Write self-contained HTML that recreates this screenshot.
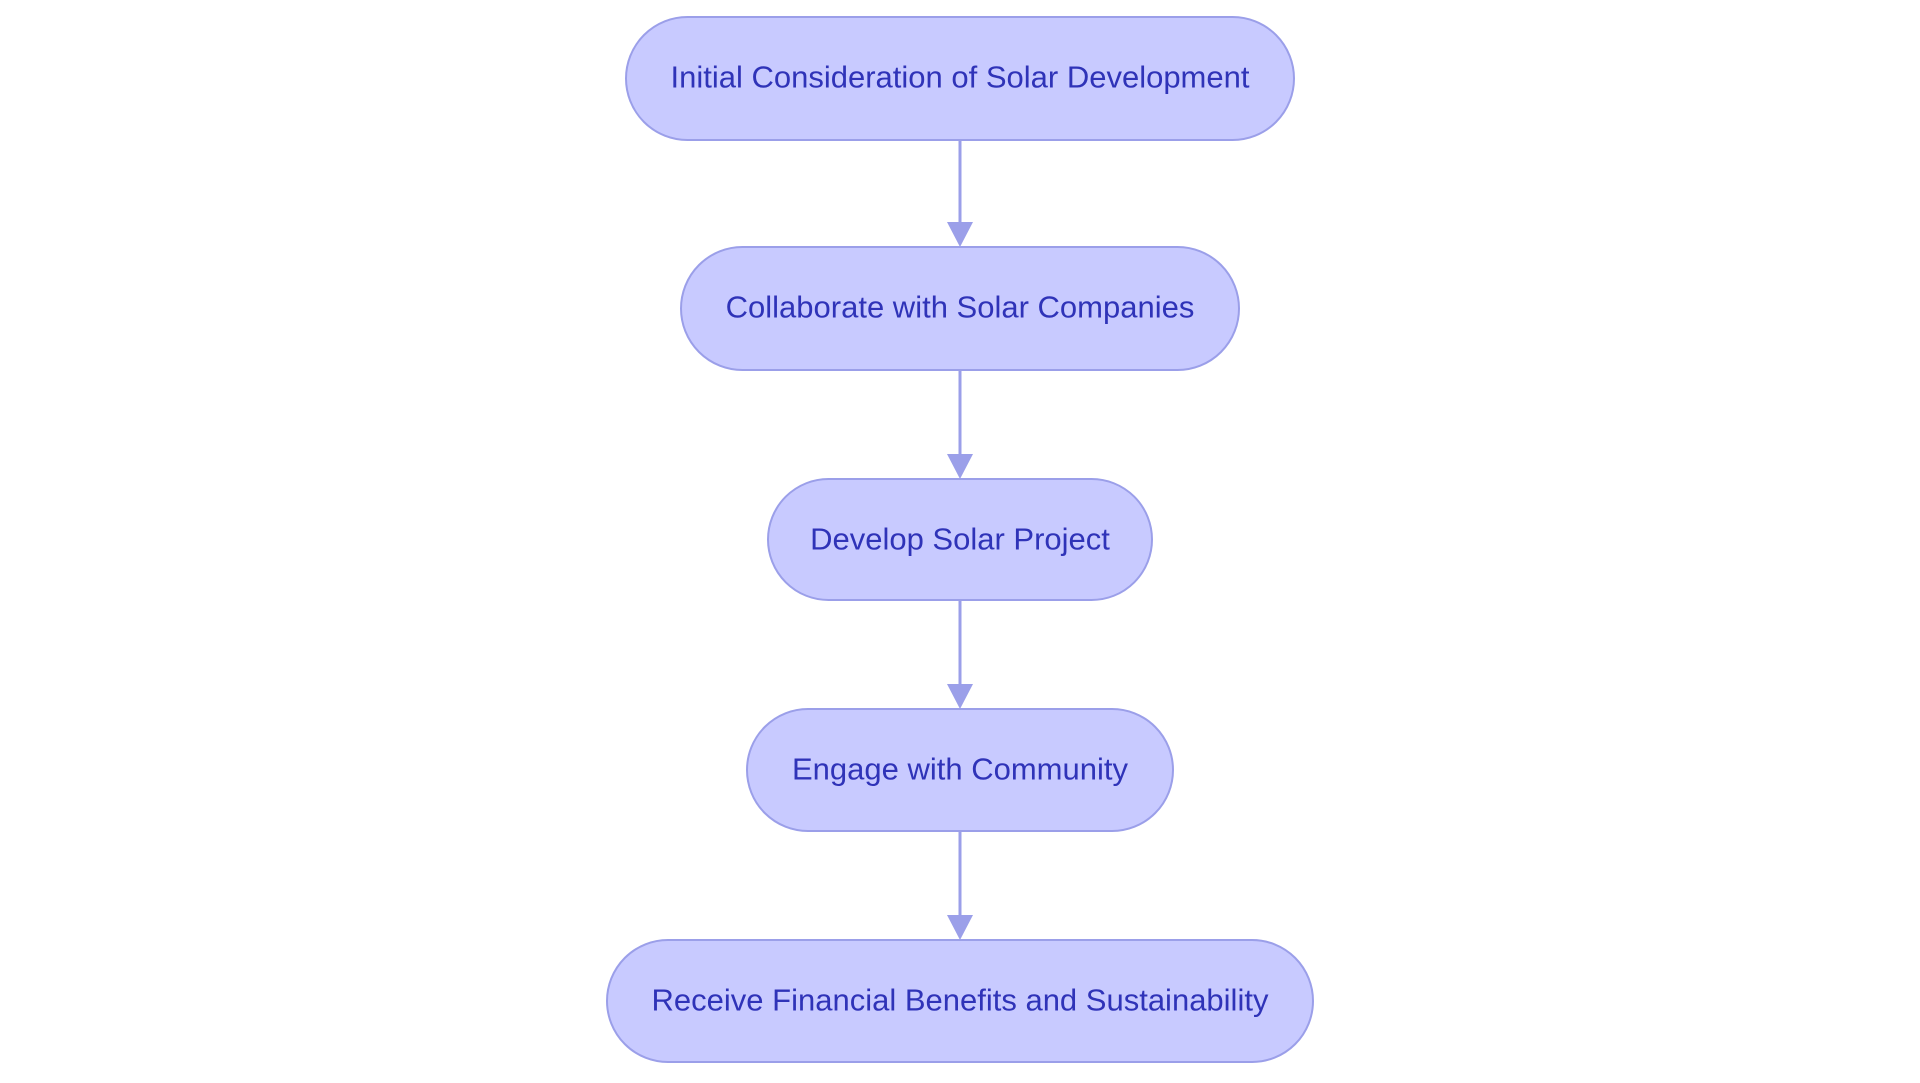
<!DOCTYPE html>
<html><head><meta charset="utf-8"><style>
html,body{margin:0;padding:0;background:#fff;width:1920px;height:1083px;overflow:hidden}
</style></head><body>
<svg width="1920" height="1083" viewBox="0 0 1920 1083" xmlns="http://www.w3.org/2000/svg">
<g stroke="#9b9fe9" stroke-width="3" fill="#9b9fe9">
<line x1="960" y1="140" x2="960" y2="222"/><path d="M947,222 L973,222 L960,247 z" stroke="none"/>
<line x1="960" y1="370" x2="960" y2="454"/><path d="M947,454 L973,454 L960,479 z" stroke="none"/>
<line x1="960" y1="600" x2="960" y2="684"/><path d="M947,684 L973,684 L960,709 z" stroke="none"/>
<line x1="960" y1="831" x2="960" y2="915"/><path d="M947,915 L973,915 L960,940 z" stroke="none"/>
</g>
<g fill="#c8caff" stroke="#9b9fe9" stroke-width="2">
<rect x="626" y="17" width="668" height="123" rx="61.5"/>
<rect x="681" y="247" width="558" height="123" rx="61.5"/>
<rect x="768" y="479" width="384" height="121" rx="60.5"/>
<rect x="747" y="709" width="426" height="122" rx="61"/>
<rect x="607" y="940" width="706" height="122" rx="61"/>
</g>
<g font-family="Liberation Sans, sans-serif" font-size="31" fill="#2f33b8" text-anchor="middle" dominant-baseline="central">
<text x="960" y="77">Initial Consideration of Solar Development</text>
<text x="960" y="307">Collaborate with Solar Companies</text>
<text x="960" y="539">Develop Solar Project</text>
<text x="960" y="769">Engage with Community</text>
<text x="960" y="1000">Receive Financial Benefits and Sustainability</text>
</g>
</svg>
</body></html>
